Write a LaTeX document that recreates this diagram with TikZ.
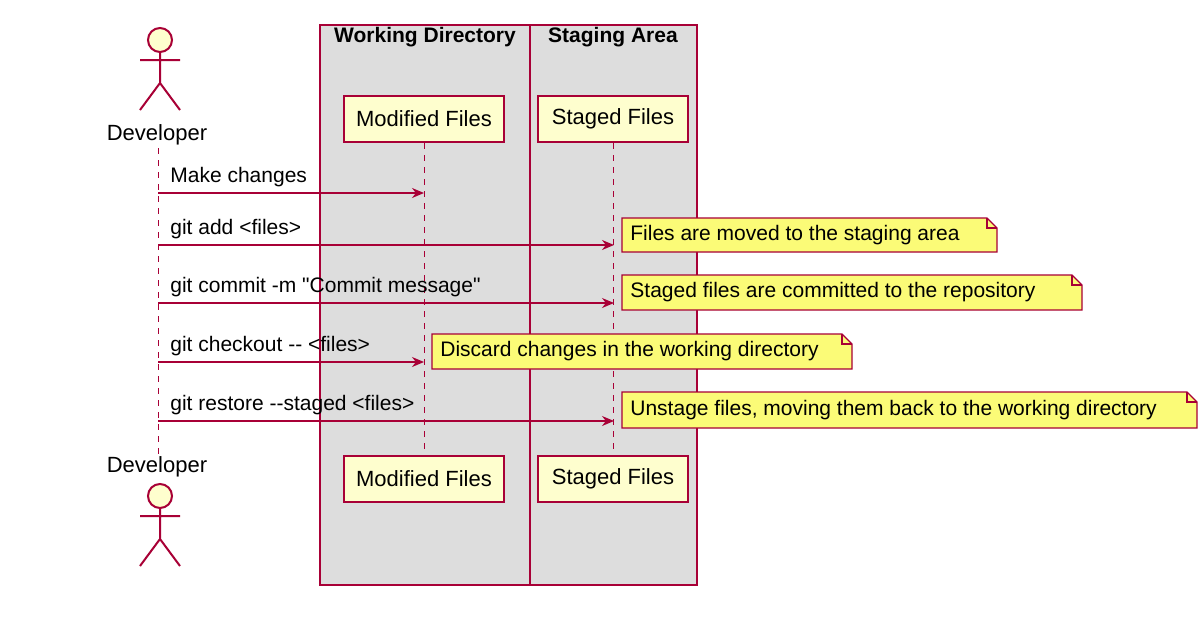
\documentclass[tikz,border=0pt]{standalone}
\usepackage{fontspec}
\setmainfont{Liberation Sans}
\usetikzlibrary{arrows.meta}
\definecolor{umlred}{HTML}{A80036}
\definecolor{umlbox}{HTML}{DDDDDD}
\definecolor{umlpart}{HTML}{FEFECE}
\definecolor{umlnote}{HTML}{FBFB77}
\tikzset{
  part/.style={draw=umlred,fill=umlpart,line width=1pt,minimum height=23pt,font=\fontsize{11}{13}\selectfont},
  life/.style={umlred,dashed,line width=.5pt},
  msg/.style={umlred,line width=.6pt,-{Stealth[length=6pt,width=5pt]}},
  lbl/.style={anchor=south west,inner sep=1pt,font=\fontsize{10.5}{12}\selectfont},
  notetxt/.style={anchor=west,inner sep=4pt,font=\fontsize{10.5}{12}\selectfont},
  actor/.style={umlred,line width=1pt}
}
% note with folded corner: name, x0, x1, y0, y1, text
\newcommand\gitnote[6]{%
  \filldraw[draw=umlred,fill=umlnote,line width=.6pt] (#2,#4) -- (#3-10,#4) -- (#3,#4+10) -- (#3,#5) -- (#2,#5) -- cycle;
  \draw[umlred,line width=.6pt] (#3-10,#4) |- (#3,#4+10);
  \node[notetxt] (#1) at (#2,{(#4+#5)/2}) {#6};}
\newcommand\actorfig[1]{%
  \draw[actor,fill=umlpart] (160,#1) circle (12);
  \draw[actor] (160,#1+12) -- (160,#1+43) (140,#1+20) -- (180,#1+20)
    (140,#1+70) -- (160,#1+43) -- (180,#1+70);}
\begin{document}
\begin{tikzpicture}[x=0.5pt,y=-0.5pt]
  \useasboundingbox (0,0) rectangle (1200,627);
  \fill[white] (0,0) rectangle (1200,627);
  % boxes
  \filldraw[draw=umlred,fill=umlbox,line width=1pt] (320,25) rectangle (530,585);
  \filldraw[draw=umlred,fill=umlbox,line width=1pt] (530,25) rectangle (697,585);
  \node[font=\bfseries\fontsize{10.5}{12}\selectfont] (wdtitle) at (425,37) {Working Directory};
  \node[font=\bfseries\fontsize{10.5}{12}\selectfont] (satitle) at (613,37) {Staging Area};
  % lifelines
  \coordinate (devtop) at (158,148);
  \coordinate (devbot) at (158,456);
  \draw[life] (devtop) -- (devbot);
  \node[part,minimum width=80pt] (modtop) at (424,119) {Modified Files};
  \node[part,minimum width=75pt] (stgtop) at (613,119) {Staged Files};
  \node[part,minimum width=80pt] (modbot) at (424,479) {Modified Files};
  \node[part,minimum width=75pt] (stgbot) at (613,479) {Staged Files};
  \draw[life] (modtop) -- (modbot);
  \draw[life] (stgtop) -- (stgbot);
  % actors
  \actorfig{40}
  \node[font=\fontsize{11}{13}\selectfont] (devup) at (157,135) {Developer};
  \node[font=\fontsize{11}{13}\selectfont] (devdown) at (157,467) {Developer};
  \actorfig{496}
  % messages
  \foreach \y/\x/\t in {193/424/Make changes,245/614/git add <files>,
      303/614/git commit -m \textquotedbl Commit message\textquotedbl,
      362/424/git checkout -{}- <files>,
      421/614/git restore -{}-staged <files>}{
    \coordinate (from) at (158,\y);
    \coordinate (to) at (\x,\y);
    \draw[msg] (from) -- (to);
    \node[lbl] at (168,\y-4) {\t};
  }
  % notes
  \gitnote{n1}{622}{997}{218}{252}{Files are moved to the staging area}
  \gitnote{n2}{622}{1082}{275}{310}{Staged files are committed to the repository}
  \gitnote{n3}{432}{852}{334}{369}{Discard changes in the working directory}
  \gitnote{n4}{622}{1197}{392}{428}{Unstage files, moving them back to the working directory}
\end{tikzpicture}
\end{document}
